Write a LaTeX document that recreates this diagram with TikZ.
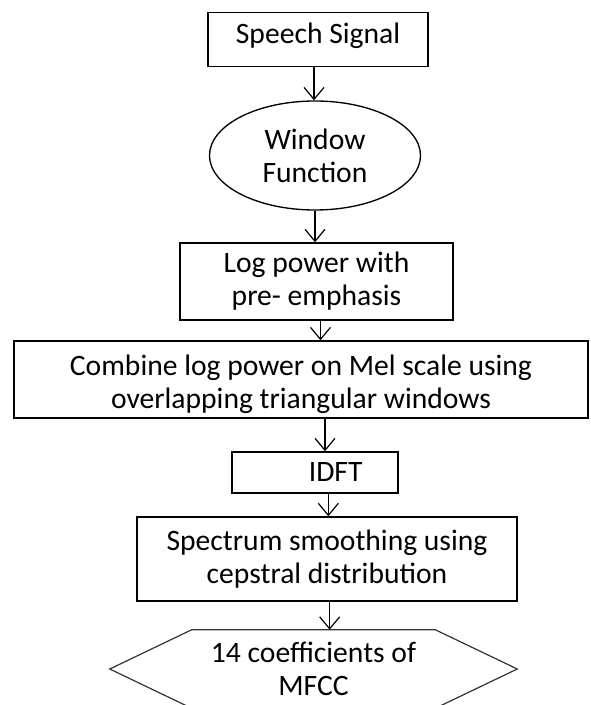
\documentclass[tikz,border=0pt]{standalone}
\usepackage{fontspec}
\setmainfont{Carlito}
\usetikzlibrary{arrows.meta,shapes.geometric}

\tikzset{
	stepbox/.style={draw, line width=1.1pt, rectangle, inner sep=0pt, align=center},
	flowarrow/.style={line width=0.9pt, -{Straight Barb[length=9pt,width=15pt,line width=0.9pt]}}
}

\begin{document}
\begin{tikzpicture}[x=0.75pt, y=-0.75pt, font=\fontsize{22.2}{24.75}\selectfont]
			%%%%% START %%%%%
			
			\useasboundingbox (0,0) rectangle (590,705);
			\clip (0,0) rectangle (590,705);
			
			\node[stepbox, minimum width=165pt, minimum height=40.5pt, text depth=10pt] (speech) at (318, 39.5) {Speech Signal};
			\node[draw, ellipse, line width=1pt, inner sep=0pt, minimum width=158.25pt, minimum height=81.75pt, align=center] (window) at (315, 155.5) {Window\\Function};
			\node[stepbox, minimum width=204.75pt, minimum height=57.75pt] (logpow) at (316.5, 281.5) {Log power with\\pre- emphasis};
			\node[stepbox, minimum width=430.5pt, minimum height=57.75pt] (combine) at (301, 379.5) {\rule{0pt}{22pt}Combine log power on Mel scale using\\overlapping triangular windows};
			\node[stepbox, minimum width=124.5pt, minimum height=30.75pt] (idft) at (315, 472.5) {\hspace*{31pt}IDFT};
			\node[stepbox, minimum width=285pt, minimum height=63pt] (spectrum) at (327, 559) {Spectrum smoothing using\\cepstral distribution};
			
			\node[minimum width=305.25pt, minimum height=58.5pt, inner sep=0pt, align=center] (mfcc) at (313.5, 669) {14 coefficients of\\MFCC};
			\draw[line width=0.9pt, color=black!80] (mfcc.west) -- ([xshift=61.5pt]mfcc.north west) -- ([xshift=-61.5pt]mfcc.north east) -- (mfcc.east) -- ([xshift=-61.5pt]mfcc.south east) -- ([xshift=61.5pt]mfcc.south west) -- cycle;
			
			\draw[flowarrow] ([xshift=-3pt]speech.south) -- ([xshift=-3pt]speech.south |- window.north);
			\draw[flowarrow] (window.south) -- (window.south |- logpow.north);
			\draw[flowarrow] ([xshift=3pt]logpow.south) -- ([xshift=3pt]logpow.south |- combine.north);
			\draw[flowarrow] ([xshift=18pt]combine.south) -- ([xshift=18pt]combine.south |- idft.north);
			\draw[flowarrow] ([xshift=10pt]idft.south) -- ([xshift=10pt]idft.south |- spectrum.north);
			\draw[flowarrow] ([xshift=2pt]spectrum.south) -- ([xshift=2pt]spectrum.south |- mfcc.north);
			
			%%%%% END %%%%%
\end{tikzpicture}
\end{document}
